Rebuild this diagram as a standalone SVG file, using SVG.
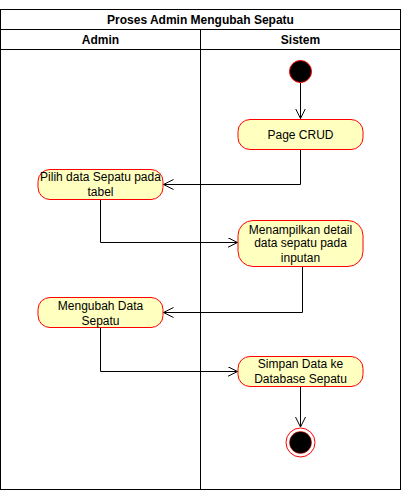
<svg xmlns="http://www.w3.org/2000/svg" width="401" height="490" viewBox="0 0 401 490">
<defs>
<style>
.lane{fill:none;stroke:#000;stroke-width:1}
.hdr{font-family:"Liberation Sans",Arial,sans-serif;font-size:12px;font-weight:bold;fill:#000;text-anchor:middle}
.act{fill:#ffffc0;stroke:#ff0000;stroke-width:1}
.lbl{font-family:"Liberation Sans",Arial,sans-serif;font-size:12px;fill:#000;text-anchor:middle}
.edge{fill:none;stroke:#000;stroke-width:1}
</style>
<marker id="arr" markerWidth="12" markerHeight="12" refX="10" refY="5" orient="auto" markerUnits="userSpaceOnUse" viewBox="0 0 12 12">
<path d="M0,0 L10,5 L0,10" fill="none" stroke="#000" stroke-width="1"/>
</marker>
</defs>
<rect width="401" height="490" fill="#fff"/>
<g id="pool">
<rect class="lane" x="0.5" y="9.5" width="400" height="480"/>
<line class="lane" x1="0.5" y1="29.5" x2="400.5" y2="29.5"/>
<line class="lane" x1="0.5" y1="49.5" x2="400.5" y2="49.5"/>
<line class="lane" x1="200.5" y1="29.5" x2="200.5" y2="489.5"/>
<text class="hdr" x="200.5" y="24">Proses Admin Mengubah Sepatu</text>
<text class="hdr" x="100.5" y="44">Admin</text>
<text class="hdr" x="300.5" y="44">Sistem</text>
</g>
<g id="connectors">
<path class="edge" d="M300.5,83 L300.5,118.5" marker-end="url(#arr)"/>
<path class="edge" d="M300.5,149.5 L300.5,184.5 L163.5,184.5" marker-end="url(#arr)"/>
<path class="edge" d="M100.5,199.5 L100.5,242.5 L237.5,242.5" marker-end="url(#arr)"/>
<path class="edge" d="M302.5,266.5 L302.5,312.5 L163.5,312.5" marker-end="url(#arr)"/>
<path class="edge" d="M100.5,327.5 L100.5,371.5 L237.5,371.5" marker-end="url(#arr)"/>
<path class="edge" d="M300.5,386.5 L300.5,427" marker-end="url(#arr)"/>
</g>
<g id="start">
<circle cx="300.5" cy="71.5" r="11" fill="#000" stroke="#ff0000" stroke-width="1"/>
</g>
<g id="page-crud">
<rect class="act" x="238" y="119.5" width="125" height="30" rx="12"/>
<text class="lbl" x="300.5" y="138.5">Page CRUD</text>
</g>
<g id="pilih">
<rect class="act" x="38" y="169.5" width="125" height="30" rx="12"/>
<text class="lbl" x="100.5" y="180.5">Pilih data Sepatu pada</text>
<text class="lbl" x="100.5" y="196">tabel</text>
</g>
<g id="menampilkan">
<rect class="act" x="238" y="220.5" width="125" height="46" rx="15"/>
<text class="lbl" x="300.5" y="233.5">Menampilkan detail</text>
<text class="lbl" x="300.5" y="247">data sepatu pada</text>
<text class="lbl" x="300.5" y="262">inputan</text>
</g>
<g id="mengubah">
<rect class="act" x="38" y="297.5" width="125" height="30" rx="12"/>
<text class="lbl" x="100.5" y="309.5">Mengubah Data</text>
<text class="lbl" x="100.5" y="324.5">Sepatu</text>
</g>
<g id="simpan">
<rect class="act" x="238" y="356.5" width="125" height="30" rx="12"/>
<text class="lbl" x="300.5" y="368">Simpan Data ke</text>
<text class="lbl" x="300.5" y="383">Database Sepatu</text>
</g>
<g id="end">
<circle cx="300.5" cy="442.5" r="14.5" fill="#fff" stroke="#ff0000" stroke-width="1"/>
<circle cx="300.5" cy="442.5" r="11" fill="#000" stroke="#ff0000" stroke-width="0.5"/>
</g>
</svg>
